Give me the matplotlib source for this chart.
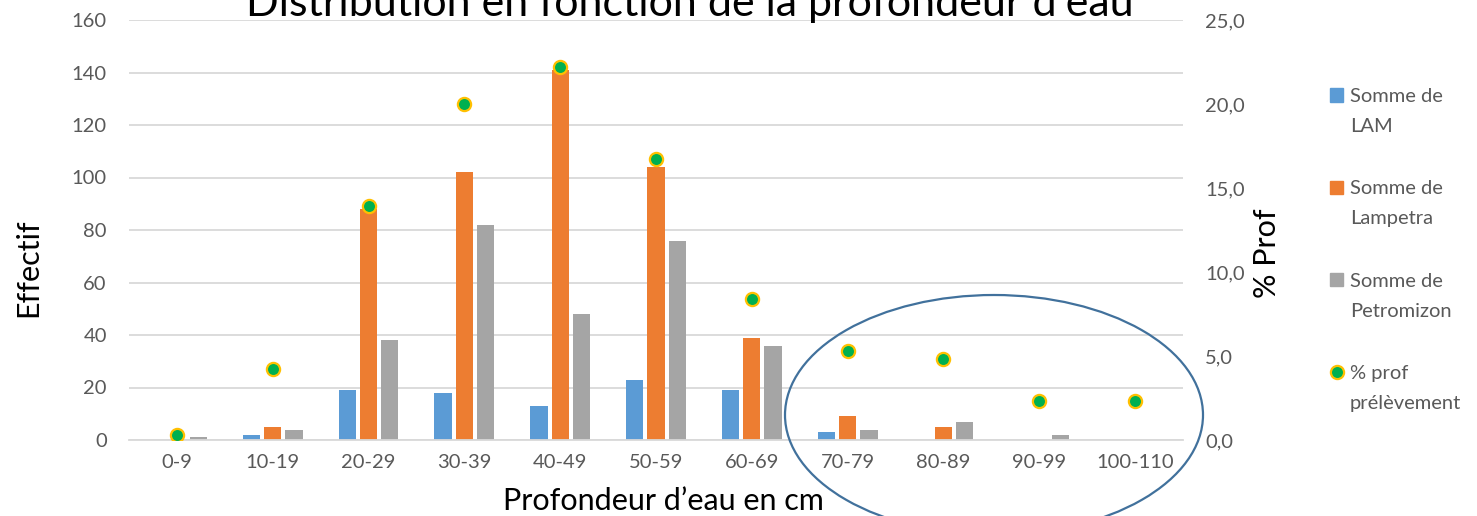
import numpy as np
import matplotlib.pyplot as plt
from matplotlib.patches import Ellipse, Rectangle
from matplotlib.lines import Line2D

plt.rcParams['font.family'] = ['Lato', 'DejaVu Sans']

# data
categories = ['0-9', '10-19', '20-29', '30-39', '40-49', '50-59',
              '60-69', '70-79', '80-89', '90-99', '100-110']
lam = [0, 2, 19, 18, 13, 23, 19, 3, 0, 0, 0]
lampetra = [0, 5, 88, 102, 141, 104, 39, 9, 5, 0, 0]
petromizon = [1, 4, 38, 82, 48, 76, 36, 4, 7, 2, 0]
pct_prof = [0.3, 4.2, 13.9, 20.0, 22.2, 16.7, 8.4, 5.3, 4.8, 2.3, 2.3]

series_names = ['Somme de\nLAM', 'Somme de\nLampetra', 'Somme de\nPetromizon']
colors = ['#5b9bd5', '#ed7d31', '#a5a5a5']
txt_grey = '#595959'

W, H = 1477, 516
fig = plt.figure(figsize=(W / 100, H / 100), dpi=100)
fig.patch.set_facecolor('white')

def fx(px):
    return px / W

def fy(py):
    return 1 - py / H

ax = fig.add_axes([fx(129), fy(440), fx(1183) - fx(129), fy(20) - fy(440)])
ax2 = ax.twinx()

x = np.arange(len(categories))
bw = 0.18
off = 0.222
for i, vals in enumerate([lam, lampetra, petromizon]):
    ax.bar(x + (i - 1) * off, vals, width=bw, color=colors[i], zorder=2)

ax2.plot(x, pct_prof, linestyle='none', marker='o', ms=9.5,
         markerfacecolor='#00b050', markeredgecolor='#ffc000', mew=1.6, zorder=3)

ax.set_xlim(-0.5, len(categories) - 0.5)
ax.set_ylim(0, 160)
ax.set_yticks(np.arange(0, 161, 20))
ax2.set_ylim(0, 25)
ax2.set_yticks(np.arange(0, 25.1, 5))
ax2.set_yticklabels([f'{v:.1f}'.replace('.', ',') for v in np.arange(0, 25.1, 5)])
ax.set_xticks(x)
ax.set_xticklabels(categories)

ax.grid(axis='y', color='#d9d9d9', linewidth=1.3, zorder=0)
ax.set_axisbelow(True)
for a in (ax, ax2):
    for s in a.spines.values():
        s.set_visible(False)
    a.tick_params(length=0, labelsize=14.5, labelcolor=txt_grey)
ax.spines['bottom'].set_visible(True)
ax.spines['bottom'].set_color('#d9d9d9')
ax.spines['bottom'].set_linewidth(1.3)
ax.tick_params(axis='y', pad=16)
ax.tick_params(axis='x', pad=10)
ax2.tick_params(axis='y', pad=16)

# titles and axis labels (title is clipped by the top edge, as in the original)
fig.text(fx(690), fy(16), 'Distribution en fonction de la profondeur d’eau',
         fontsize=31, ha='center', va='baseline', color='black')
fig.text(fx(663), fy(510), 'Profondeur d’eau en cm', fontsize=22,
         ha='center', va='baseline', color='black')
fig.text(fx(28), fy(268), 'Effectif', fontsize=22, rotation=90,
         ha='center', va='center', color='black')
fig.text(fx(1267), fy(253), '% Prof', fontsize=22, rotation=90,
         ha='center', va='center', color='black')

# legend drawn by hand so the symbol sits on the first line
legend_names = series_names + ['% prof\nprélèvement']
for i, name in enumerate(legend_names):
    y0 = 95 + 92.3 * i
    if i < 3:
        fig.add_artist(Rectangle((fx(1330), fy(y0 + 6.5)), fx(13), fy(0) - fy(13),
                                 transform=fig.transFigure, color=colors[i]))
    else:
        fig.add_artist(Line2D([fx(1336.5)], [fy(y0)], transform=fig.transFigure,
                              marker='o', ms=9.5, markerfacecolor='#00b050',
                              markeredgecolor='#ffc000', mew=1.6))
    line1, line2 = name.split('\n')
    fig.text(fx(1350), fy(y0 + 7), line1, fontsize=14.5, color=txt_grey, va='baseline')
    fig.text(fx(1350), fy(y0 + 37), line2, fontsize=14.5, color=txt_grey, va='baseline')

# highlight circle around the deep classes
fig.add_artist(Ellipse((fx(994), fy(415)), fx(418), fy(0) - fy(240),
                       transform=fig.transFigure, fill=False,
                       edgecolor='#41719c', linewidth=1.6))

fig.savefig('out.png', dpi=100)
